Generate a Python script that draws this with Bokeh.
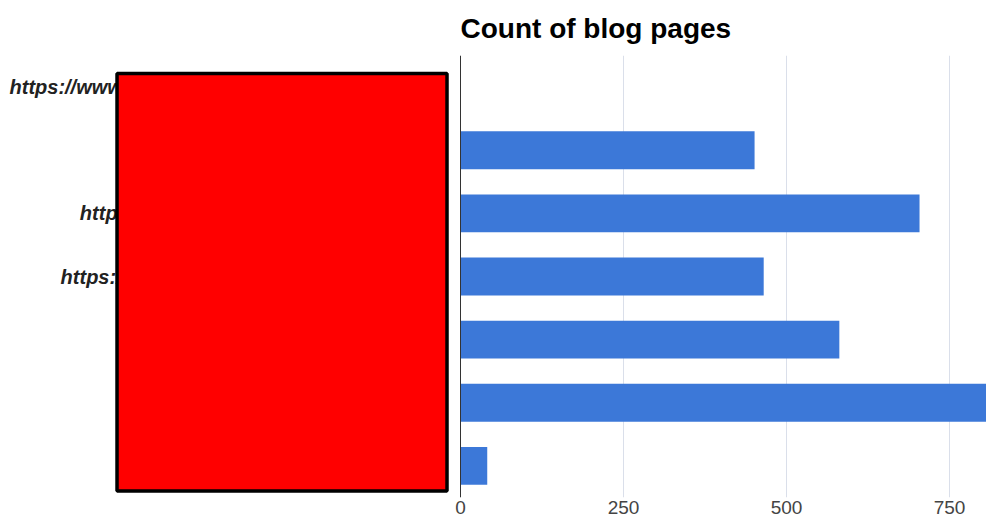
from bokeh.plotting import figure
from bokeh.models import Range1d, FactorRange, FixedTicker, Span, BoxAnnotation, ColumnDataSource
from bokeh.embed import file_html
from bokeh.resources import INLINE
from bokeh.core.properties import value

# --- data (labels are redacted in the reference; placeholders of similar length) ---
pages = [
    "https://www.exampleblog.com/blog/marketing",
    "https://news.example.com",
    "https://blog.example.com/news/events",
    "https://www.example.org/blog/resources",
    "https://blog.example.net",
    "https://example.io/blog",
    "https://shop.example.com/blog",
]
counts = [0, 451, 704, 465, 581, 870, 41]
ticks = [0, 250, 500, 750]
title_text = "Count of blog pages"

FONT = "Liberation Sans"

src = ColumnDataSource(dict(page=pages, count=counts))

p = figure(
    width=986, height=516,
    y_range=FactorRange(factors=pages[::-1]),
    x_range=Range1d(-705.5, 806.7),
    output_backend="svg", toolbar_location=None,
    min_border_left=0, min_border_right=0,
    min_border_top=55, min_border_bottom=19,
)
p.outline_line_color = None
p.background_fill_color = "white"

# title
p.title.text = title_text
p.title.text_font = FONT
p.title.text_font_size = "28px"
p.title.text_font_style = "bold"
p.title.text_color = "#000000"
p.title.offset = 460
p.title.vertical_align = "top"
p.title.standoff = 20

# axes
p.yaxis.visible = False
p.ygrid.visible = False
p.xaxis.ticker = FixedTicker(ticks=ticks)
p.xgrid.ticker = FixedTicker(ticks=ticks)
p.xgrid.grid_line_color = "#dadfea"
p.xaxis.axis_line_color = None
p.xaxis.major_tick_line_color = None
p.xaxis.minor_tick_line_color = None
p.xaxis.major_tick_out = 0
p.xaxis.major_tick_in = 0
p.xaxis.minor_tick_out = 0
p.xaxis.major_label_text_font = FONT
p.xaxis.major_label_text_font_size = "19px"
p.xaxis.major_label_text_color = "#444444"
p.xaxis.major_label_standoff = 3

# bars
p.hbar(y="page", left=0, right="count", height=0.6, source=src,
       fill_color="#3c78d8", line_color=None)

# baseline
p.add_layout(Span(location=0, dimension="height", line_color="#333333", line_width=1))

# category labels
p.text(x=0, y="page", text="page", source=src, x_offset=-15,
       text_align="right", text_baseline="middle",
       text_font=value(FONT), text_font_size="20px", text_font_style="bold italic",
       text_color="#222222")

# redaction box
p.add_layout(BoxAnnotation(left=-526.8, right=-20.7, top=6.715, bottom=0.101,
                           fill_color="#ff0000", fill_alpha=1.0,
                           line_color="black", line_width=3.5, line_alpha=1.0))

open("out.html", "w").write(file_html(p, INLINE))
